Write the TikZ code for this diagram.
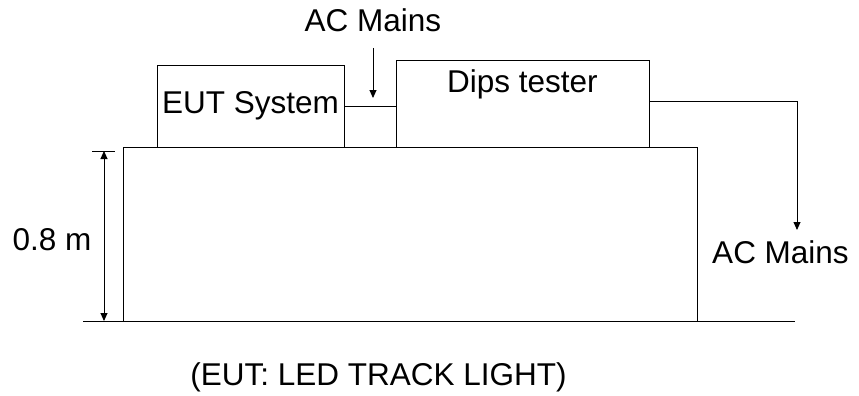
\documentclass[tikz,border=0pt]{standalone}
\usepackage{fontspec}
\setmainfont{Liberation Sans}
\usetikzlibrary{arrows.meta,positioning}

\begin{document}
\begin{tikzpicture}[x=1pt,y=-1pt,>={Triangle[length=8pt,width=7pt]},
 every node/.style={font=\fontsize{31.5}{36}\selectfont,inner sep=0pt},
 unit/.style={draw,line width=0.9pt,inner sep=0pt}]
    \useasboundingbox (0,0) rectangle (859,396);
    % table and floor
    \node[unit,minimum width=574pt,minimum height=174pt] (table) at (410,234) {};
    \draw[line width=0.9pt] (83,321) coordinate (floorL) -- (795,321) coordinate (floorR);
    % equipment on the table
    \node[unit,minimum width=187pt,minimum height=82pt] (eut) at (250.5,106) {EUT System};
    \node[unit,minimum width=253pt,minimum height=87pt,
          label={[anchor=north,inner sep=10pt]north:Dips tester}] (dips) at (522.5,103.5) {};
    \draw[line width=0.9pt] (eut.east) -- (eut.east -| dips.west);
    % supply into the tester
    \node[anchor=base] (mainsin) at (373,32) {AC Mains};
    \coordinate (tipin) at (373,98);
    \draw[->,line width=0.9pt] (mainsin.south |- 0,48) -- (tipin);
    % tester output to mains
    \node[anchor=base] (mainsout) at (780.5,263) {AC Mains};
    \coordinate (turn) at (797,101);
    \coordinate (tipout) at (797,230);
    \draw[->,line width=0.9pt] (turn -| dips.east) -- (turn) -- (tipout);
    % table height
    \coordinate (dimtop) at (104,151);
    \draw[line width=0.9pt] (92,151) -- (115,151);
    \draw[<->,line width=0.9pt] (dimtop) -- (dimtop |- floorL);
    \node[anchor=base] (height) at (52,250) {0.8 m};
    \node[anchor=base] (caption) at (378.5,385) {(EUT: LED TRACK LIGHT)};
\end{tikzpicture}
\end{document}
